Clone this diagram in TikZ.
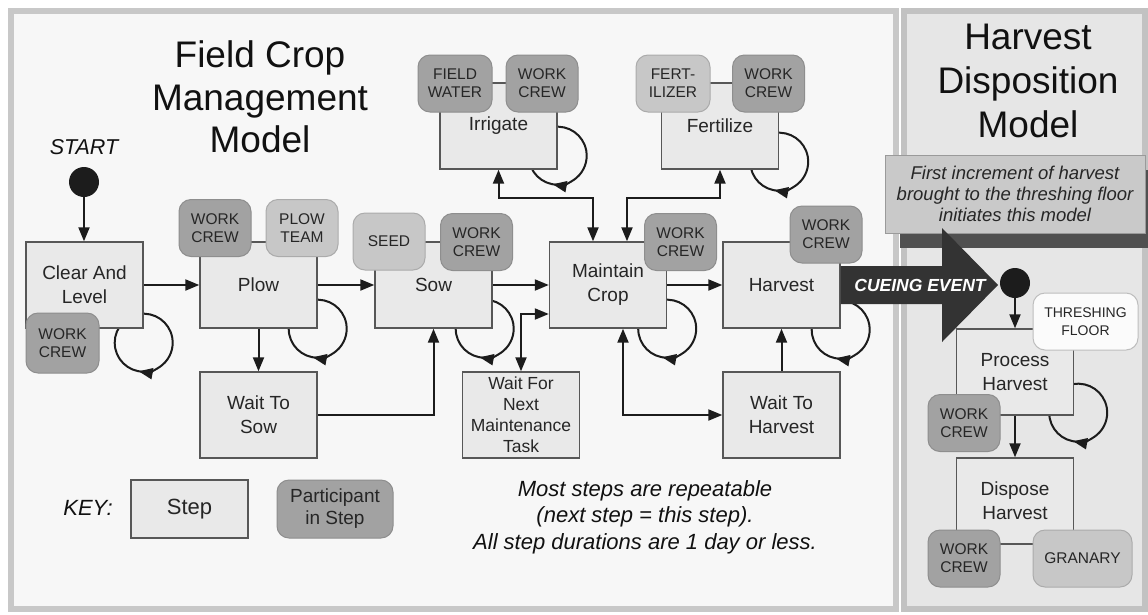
\documentclass[tikz,border=0pt]{standalone}
\usepackage{fontspec}
\setmainfont{Liberation Sans}
\usetikzlibrary{arrows.meta,calc}
\pgfdeclarelayer{panels}
\pgfdeclarelayer{edges}
\pgfsetlayers{panels,edges,main}
\definecolor{panelL}{HTML}{F7F7F7}
\definecolor{panelR}{HTML}{E6E6E6}
\definecolor{panelB}{HTML}{C8C8C8}
\definecolor{panelBR}{HTML}{C2C2C2}
\definecolor{stepfill}{HTML}{E9E9E9}
\definecolor{stepline}{HTML}{575757}
\definecolor{partdark}{HTML}{A2A2A2}
\definecolor{partdarkline}{HTML}{8E8E8E}
\definecolor{partlight}{HTML}{C7C7C7}
\definecolor{partlightline}{HTML}{ABABAB}
\definecolor{partwhite}{HTML}{FBFBFB}
\definecolor{partwhiteline}{HTML}{BDBDBD}
\definecolor{incfill}{HTML}{C9C9C9}
\definecolor{incline}{HTML}{9A9A9A}
\definecolor{shadowc}{HTML}{505050}
\definecolor{ink}{HTML}{1C1C1C}
\definecolor{cue}{HTML}{333333}
\definecolor{txt}{HTML}{262626}
\definecolor{titletxt}{HTML}{111111}
\newcommand{\stepLoop}[3]{%
  \draw[arr] ($(#1.south east)+(#2,#3)+(-100:29)$) arc[start angle=-100,end angle=100,radius=29];
  \draw[edge] ($(#1.south east)+(#2,#3)+(90:29)$) arc[start angle=90,end angle=225,radius=29];
}
\begin{document}
\begin{tikzpicture}[x=1pt,y=-1pt,
  stepbox/.style={draw=stepline, fill=stepfill, line width=1.4pt, minimum width=117pt, minimum height=86pt, inner sep=0pt, align=center, text=txt, font=\fontsize{19}{24}\selectfont},
  part/.style={rounded corners=12pt, line width=1pt, minimum width=72pt, minimum height=57pt, inner sep=0pt, align=center, text=txt, font=\fontsize{15.5}{18}\selectfont},
  pdark/.style={part, fill=partdark, draw=partdarkline},
  plight/.style={part, fill=partlight, draw=partlightline},
  edge/.style={draw=ink, line width=2pt},
  arr/.style={edge, -{Triangle[length=14pt,width=11pt]}},
  darr/.style={edge, {Triangle[length=14pt,width=11pt]}-{Triangle[length=14pt,width=11pt]}},
  dot/.style={circle, fill=ink, minimum size=30pt, inner sep=0pt}
]
\useasboundingbox (0,0) rectangle (1148,614);
\begin{pgfonlayer}{panels}
  \fill[white] (0,0) rectangle (1148,614);
  \draw[draw=panelB, fill=panelL, line width=6pt] (11,11) rectangle (896,609);
  \draw[draw=panelBR, fill=panelR, line width=6pt] (904,11) rectangle (1145,609);
\end{pgfonlayer}

% titles
\node[font=\fontsize{37}{42.5}\selectfont, align=center, text=titletxt] (t1) at (260,97) {Field Crop\\Management\\Model};
\node[font=\fontsize{37}{44}\selectfont, align=center, text=titletxt] (t2) at (1028,80.5) {Harvest\\Disposition\\Model};
\node[font=\fontsize{21.5}{26}\selectfont\itshape, text=titletxt] (start) at (84,147) {START};

% steps
\node[stepbox] (cl) at (84.5,285) {Clear And\\Level};
\node[stepbox] (plow) at (258.5,285) {Plow};
\node[stepbox] (sow) at (433.5,285) {Sow};
\node[stepbox] (maint) at (608,285) {Maintain\\Crop};
\node[stepbox] (harv) at (781.5,285) {Harvest};
\node[stepbox] (irr) at (498.5,126) {Irrigate};
\node[stepbox] (fert) at (720,126) {Fertilize};
\node[stepbox] (wts) at (258.5,415) {Wait To\\Sow};
\node[stepbox, font=\fontsize{17.5}{21}\selectfont] (wfn) at (521,415) {Wait For\\Next\\Maintenance\\Task};
\node[stepbox] (wth) at (781.5,415) {Wait To\\Harvest};
\node[stepbox] (proc) at (1015,372) {Process\\Harvest};
\node[stepbox] (disp) at (1015,501) {Dispose\\Harvest};

% participants
\node[pdark, minimum width=73pt, minimum height=60pt] (p1) at (62.5,343) {WORK\\CREW};
\node[pdark] (p2) at (215,228) {WORK\\CREW};
\node[plight] (p3) at (302,228) {PLOW\\TEAM};
\node[plight] (p4) at (389,241.5) {SEED};
\node[pdark] (p5) at (476.5,242) {WORK\\CREW};
\node[pdark] (p6) at (680.5,242) {WORK\\CREW};
\node[pdark] (p7) at (826,234.5) {WORK\\CREW};
\node[pdark, minimum width=74pt] (p8) at (455,83.5) {FIELD\\WATER};
\node[pdark] (p9) at (542,83.5) {WORK\\CREW};
\node[plight, minimum width=74pt] (p10) at (673,83.5) {FERT-\\ILIZER};
\node[pdark] (p11) at (768.5,83.5) {WORK\\CREW};
\node[part, fill=partwhite, draw=partwhiteline, minimum width=105pt, font=\fontsize{14}{17.5}\selectfont] (p12) at (1085.5,321.5) {THRESHING\\FLOOR};
\node[pdark] (p13) at (964,423) {WORK\\CREW};
\node[pdark] (p14) at (964,558.5) {WORK\\CREW};
\node[plight, minimum width=99pt] (p15) at (1082.5,558.5) {GRANARY};

% key and note
\node[font=\fontsize{22}{26}\selectfont\itshape, text=titletxt] (key) at (88,508) {KEY:};
\node[stepbox, minimum height=58pt, font=\fontsize{22}{26}\selectfont] (kstep) at (189.5,509) {Step};
\node[pdark, minimum width=116pt, minimum height=58pt, font=\fontsize{19}{22}\selectfont] (kpart) at (335,509) {Participant\\in Step};
\node[font=\fontsize{22}{26.5}\selectfont\itshape, align=center, text=titletxt] (note) at (645,517) {Most steps are repeatable\\(next step = this step).\\All step durations are 1 day or less.};

% harvest disposition trigger
\fill[shadowc] (900,170) rectangle (1148,248);
\node[draw=incline, fill=incfill, line width=1pt, minimum width=260pt, minimum height=78pt, inner sep=0pt, align=center, text=txt, font=\fontsize{18.5}{21}\selectfont\itshape] (inc) at (1015,194) {First increment of harvest\\brought to the threshing floor\\initiates this model};
\fill[cue] ($(harv.east)+(0,-19)$) -- (942,266) -- (942,228) -- (998,285) -- (942,342) -- (942,304) -- ($(harv.east)+(0,19)$) -- cycle;
\node[text=white, font=\fontsize{17.5}{20}\selectfont\bfseries\itshape] (cuetxt) at (920,285) {CUEING EVENT};

% start dots
\node[dot] (s1) at (84,182) {};
\node[dot] (s2) at (1015,283) {};

\begin{pgfonlayer}{edges}
  \draw[arr] (s1.south) -- (s1.south |- cl.north);
  \draw[arr] (cl.east) -- (plow.west);
  \draw[arr] (plow.east) -- (sow.west);
  \draw[arr] (sow.east) -- (maint.west);
  \draw[arr] (maint.east) -- (harv.west);
  \draw[arr] (plow.south) -- (wts.north);
  \draw[arr] (wts.east) -| (sow.south);
  \draw[arr] (wth.north) -- (harv.south);
  \draw[darr] (irr.south) |- ($(maint.north)+(-15,-43)$) -- ($(maint.north)+(-15,0)$);
  \draw[darr] (fert.south) |- ($(maint.north)+(19,-43)$) -- ($(maint.north)+(19,0)$);
  \draw[darr] (wfn.north) |- ($(maint.west)+(0,29)$);
  \draw[darr] ($(maint.south)+(15,0)$) |- (wth.west);
  \draw[arr] (s2.south) -- (s2.south |- proc.north);
  \draw[arr] (proc.south) -- (disp.north);
  \stepLoop{cl}{0}{14}
  \stepLoop{plow}{0}{0}
  \stepLoop{sow}{-8}{0}
  \stepLoop{maint}{0}{0}
  \stepLoop{harv}{0}{1}
  \stepLoop{irr}{0}{-14}
  \stepLoop{fert}{0}{-8}
  \stepLoop{proc}{4}{-3}
\end{pgfonlayer}
\end{tikzpicture}
\end{document}
